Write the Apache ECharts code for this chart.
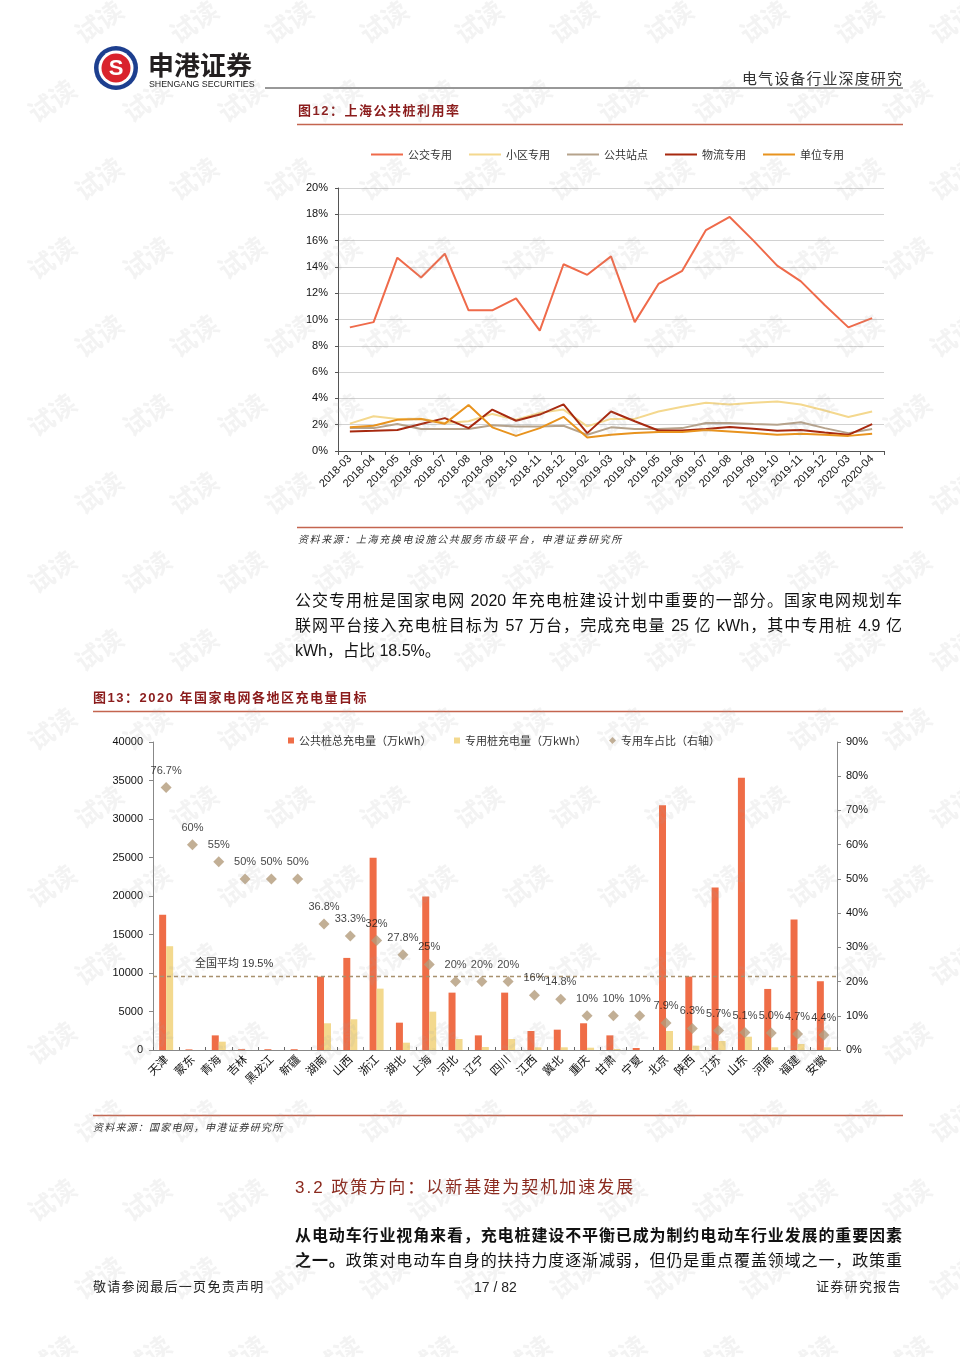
<!DOCTYPE html>
<html><head><meta charset="utf-8">
<script src="https://cdn.jsdelivr.net/npm/echarts@6/dist/echarts.min.js"></script>
<style>
body{margin:0;background:#fff;}
#page{position:relative;width:960px;height:1357px;overflow:hidden;font-family:"Liberation Sans","Noto Sans CJK SC",sans-serif;color:#111;}
#chart{position:absolute;left:0;top:0;width:960px;height:1357px;}
.t{position:absolute;white-space:nowrap;}
.j{position:absolute;white-space:nowrap;text-align:justify;text-align-last:justify;}
.wm{position:absolute;font-size:26px;font-weight:bold;color:rgba(160,160,160,0.13);transform:rotate(-35deg);pointer-events:none;font-family:"Noto Sans CJK SC";white-space:nowrap;}
</style></head>
<body><div id="page"><div id="chart"></div>
<div class="t" style="left:148px;top:49px;font-size:26px;line-height:30px;font-weight:bold;color:#231f20;font-family:'Noto Sans CJK SC';">申港证券</div>
<div class="t" style="left:149px;top:78px;font-size:8.8px;line-height:12px;color:#222;">SHENGANG SECURITIES</div>
<div class="t" style="left:742px;top:68px;font-size:15px;line-height:20px;letter-spacing:1.1px;color:#333;font-family:'Noto Sans CJK SC';">电气设备行业深度研究</div>
<div class="t" style="left:298px;top:101px;font-size:13px;line-height:20px;letter-spacing:1.5px;font-weight:bold;color:#8b1c1c;">图12：上海公共桩利用率</div>
<div class="t" style="left:298px;top:533px;font-size:10px;line-height:14px;letter-spacing:1.6px;font-style:italic;color:#333;">资料来源：上海充换电设施公共服务市级平台，申港证券研究所</div>
<div class="j" style="left:295px;top:590px;width:607px;font-size:16px;line-height:22px;">公交专用桩是国家电网 2020 年充电桩建设计划中重要的一部分。国家电网规划车</div>
<div class="j" style="left:295px;top:615px;width:607px;font-size:16px;line-height:22px;">联网平台接入充电桩目标为 57 万台，完成充电量 25 亿 kWh，其中专用桩 4.9 亿</div>
<div class="t" style="left:295px;top:640px;font-size:16px;line-height:22px;">kWh，占比 18.5%。</div>
<div class="t" style="left:93px;top:688px;font-size:13px;line-height:20px;letter-spacing:1.5px;font-weight:bold;color:#8b1c1c;">图13：2020 年国家电网各地区充电量目标</div>
<div class="t" style="left:195px;top:956px;font-size:11px;line-height:14px;color:#333;">全国平均 19.5%</div>
<div class="t" style="left:93px;top:1121px;font-size:10px;line-height:14px;letter-spacing:1.2px;font-style:italic;color:#333;">资料来源：国家电网，申港证券研究所</div>
<div class="t" style="left:295px;top:1176px;font-size:17px;line-height:24px;letter-spacing:2px;color:#8b2a1e;">3.2 政策方向：以新基建为契机加速发展</div>
<div class="j" style="left:295px;top:1225px;width:607px;font-size:16px;line-height:22px;font-weight:bold;">从电动车行业视角来看，充电桩建设不平衡已成为制约电动车行业发展的重要因素</div>
<div class="j" style="left:295px;top:1250px;width:607px;font-size:16px;line-height:22px;"><b>之一。</b>政策对电动车自身的扶持力度逐渐减弱，但仍是重点覆盖领域之一，政策重</div>
<div class="t" style="left:93px;top:1278px;font-size:13px;line-height:18px;letter-spacing:1.3px;color:#222;">敬请参阅最后一页免责声明</div>
<div class="t" style="left:474px;top:1278px;font-size:14px;line-height:18px;color:#222;">17 / 82</div>
<div class="t" style="left:816px;top:1278px;font-size:13px;line-height:18px;letter-spacing:1.3px;color:#222;">证券研究报告</div>
</div>
<script>
// ---------- Figure 12 data ----------
const months = ['2018-03','2018-04','2018-05','2018-06','2018-07','2018-08','2018-09','2018-10','2018-11','2018-12','2019-02','2019-03','2019-04','2019-05','2019-06','2019-07','2019-08','2019-09','2019-10','2019-11','2019-12','2020-03','2020-04'];
const busVals = [9.4,9.8,14.7,13.2,15.0,10.7,10.7,11.6,9.15,14.2,13.4,14.8,9.8,12.7,13.7,16.8,17.8,16.0,14.1,12.9,11.1,9.4,10.1];
const residentialVals = [2.08,2.64,2.44,2.46,2.13,2.26,2.82,2.38,2.9,3.15,1.87,2.44,2.44,3.0,3.36,3.67,3.54,3.67,3.77,3.54,3.08,2.59,3.0];
const publicStationVals = [1.74,1.74,2.05,1.67,1.67,1.67,1.95,1.87,1.87,1.92,1.23,1.8,1.67,1.67,1.74,2.13,2.13,2.05,2.0,2.18,1.74,1.36,1.67];
const logisticsVals = [1.49,1.54,1.6,2.05,2.5,1.74,3.15,2.3,2.77,3.54,1.36,3.0,2.26,1.56,1.56,1.67,1.82,1.7,1.54,1.6,1.41,1.23,2.05];
const unitVals = [1.8,1.92,2.38,2.44,2.08,3.5,1.8,1.15,1.74,2.6,1.03,1.23,1.36,1.44,1.44,1.6,1.49,1.36,1.23,1.31,1.23,1.15,1.31];
const lineNames = ['公交专用','小区专用','公共站点','物流专用','单位专用'];

// ---------- Figure 13 data ----------
const regions = ['天津','蒙东','青海','吉林','黑龙江','新疆','湖南','山西','浙江','湖北','上海','河北','辽宁','四川','江西','冀北','重庆','甘肃','宁夏','北京','陕西','江苏','山东','河南','福建','安徽'];
const publicCharge = [17550,80,1900,100,100,100,9530,11960,24960,3550,19930,7450,1900,7450,2470,2640,3470,1900,260,31770,9530,21100,35360,7930,16940,8930];
const dedicatedCharge = [13480,0,1080,0,0,0,3470,3990,7970,950,4980,1430,390,1430,350,350,300,130,0,2470,560,1170,1730,350,780,350];
const dedicatedRatio = [76.7,60,55,50,50,50,36.8,33.3,32,27.8,25,20,20,20,16,14.8,10,10,10,7.9,6.3,5.7,5.1,5.0,4.7,4.4];
const ratioLabels = ['76.7%','60%','55%','50%','50%','50%','36.8%','33.3%','32%','27.8%','25%','20%','20%','20%','16%','14.8%','10%','10%','10%','7.9%','6.3%','5.7%','5.1%','5.0%','4.7%','4.4%'];
const avgLineLevel = 21.6; // drawn position of the "全国平均" dashed line on the right axis
const barNames = ['公共桩总充电量（万kWh）','专用桩充电量（万kWh）','专用车占比（右轴）'];

const F = 'Liberation Sans';
const CJK = 'Noto Sans CJK SC';
const lineColors = ['#ef6a4a','#f4d88e','#b6a38c','#a7290f','#e8931e'];
const lineData = [busVals,residentialVals,publicStationVals,logisticsVals,unitVals];

const chart = echarts.init(document.getElementById('chart'), null, {renderer:'canvas'});

function hline(x1,x2,y,color,w){return {type:'line',shape:{x1:x1,y1:y,x2:x2,y2:y},style:{stroke:color,lineWidth:w},silent:true};}

const option = {
  animation:false,
  graphic:[
    {type:'circle',shape:{cx:116,cy:68,r:22},style:{fill:'#1d3f8f'}},
    {type:'circle',shape:{cx:116,cy:68,r:17.5},style:{fill:'#fff'}},
    {type:'circle',shape:{cx:116,cy:68,r:14.5},style:{fill:'#d9232d'}},
    {type:'text',style:{text:'S',x:116,y:69,fill:'#fff',font:'bold 22px Liberation Sans',align:'center',verticalAlign:'middle'}},
    hline(265,903,88,'#333',1),
    hline(297,903,124.5,'#c4654f',1.5),
    hline(297,903,527.5,'#c4654f',1.5),
    hline(93,903,711.5,'#c4654f',1.5),
    hline(93,903,1115.5,'#c4654f',1.5)
  ],
  legend:[
    {left:366,top:144,itemWidth:32,itemHeight:2,itemGap:17,icon:'rect',
     textStyle:{fontSize:11,color:'#333',fontFamily:CJK},data:lineNames},
    {left:283,top:730,itemWidth:6,itemHeight:6,icon:'rect',itemGap:0,
     textStyle:{fontSize:11,color:'#333',fontFamily:CJK},data:[barNames[0]]},
    {left:449,top:730,itemWidth:6,itemHeight:6,icon:'rect',itemGap:0,
     textStyle:{fontSize:11,color:'#333',fontFamily:CJK},data:[barNames[1]]},
    {left:604,top:730,itemWidth:7,itemHeight:7,icon:'diamond',itemGap:0,
     textStyle:{fontSize:11,color:'#333',fontFamily:CJK},data:[barNames[2]]}
  ],
  grid:[
    {left:338,top:188,width:546,height:263},
    {left:153,top:742,width:684,height:308}
  ],
  xAxis:[
    {type:'category',gridIndex:0,data:months,boundaryGap:true,
     axisLine:{lineStyle:{color:'#555',width:1}},
     axisTick:{show:true,length:4,lineStyle:{color:'#555'}},
     axisLabel:{rotate:45,interval:0,fontSize:11,color:'#111',fontFamily:F,margin:6}},
    {type:'category',gridIndex:1,data:regions,boundaryGap:true,
     axisLine:{lineStyle:{color:'#888',width:1}},
     axisTick:{show:true,length:3,inside:true,lineStyle:{color:'#666'}},
     axisLabel:{rotate:45,interval:0,fontSize:11.5,color:'#111',fontFamily:CJK,margin:7}}
  ],
  yAxis:[
    {type:'value',gridIndex:0,min:0,max:20,interval:2,
     axisLine:{show:true,lineStyle:{color:'#555'}},
     axisTick:{show:true,length:3,lineStyle:{color:'#555'}},
     splitLine:{lineStyle:{color:'#d2d2d2',width:1.2}},
     axisLabel:{formatter:'{value}%',fontSize:11,color:'#111',fontFamily:F,margin:10}},
    {type:'value',gridIndex:1,min:0,max:40000,interval:5000,
     axisLine:{show:true,lineStyle:{color:'#888'}},
     axisTick:{show:true,length:4,lineStyle:{color:'#888'}},
     splitLine:{show:false},
     axisLabel:{formatter:v=>String(v),fontSize:11,color:'#111',fontFamily:F,margin:10}},
    {type:'value',gridIndex:1,position:'right',min:0,max:90,interval:10,
     axisLine:{show:true,lineStyle:{color:'#888'}},
     axisTick:{show:true,length:4,lineStyle:{color:'#888'}},
     splitLine:{show:false},
     axisLabel:{formatter:'{value}%',fontSize:11,color:'#111',fontFamily:F,margin:9}}
  ],
  series:[]
};

const order = [1,2,4,3,0];
order.forEach(i=>{
  option.series.push({name:lineNames[i],type:'line',xAxisIndex:0,yAxisIndex:0,data:lineData[i],
    symbol:'none',smooth:false,lineStyle:{width:2,color:lineColors[i]},itemStyle:{color:lineColors[i]},z:3+i});
});
option.series.push(
  {name:barNames[0],type:'bar',xAxisIndex:1,yAxisIndex:1,data:publicCharge,barWidth:7,barGap:'0%',
   itemStyle:{color:'#ef6d47'}},
  {name:barNames[1],type:'bar',xAxisIndex:1,yAxisIndex:1,data:dedicatedCharge,barWidth:7,barGap:'0%',
   itemStyle:{color:'#f3d98e'}},
  {name:barNames[2],type:'scatter',xAxisIndex:1,yAxisIndex:2,data:dedicatedRatio,symbol:'diamond',symbolSize:11,
   itemStyle:{color:'#b39b7a'},z:5,
   label:{show:true,position:'top',distance:6,fontSize:11,color:'#111',fontFamily:F,
     formatter:p=>ratioLabels[p.dataIndex]},
   labelLayout:{hideOverlap:false},
   markLine:{silent:true,symbol:'none',data:[{yAxis:avgLineLevel}],
     lineStyle:{type:[4,3],color:'#a8916e',width:1.3},label:{show:false}}}
);
chart.setOption(option);

// faint watermark pattern
const page = document.getElementById('page');
for(let r=0;r<18;r++){
  const y = 2 + r*78.5;
  const off = (r%2===0)?72:25;
  for(let c=0;c<11;c++){
    const s=document.createElement('div');
    s.className='wm'; s.textContent='试读';
    s.style.left=(off+c*95)+'px'; s.style.top=y+'px';
    page.appendChild(s);
  }
}
</script>
</body></html>
